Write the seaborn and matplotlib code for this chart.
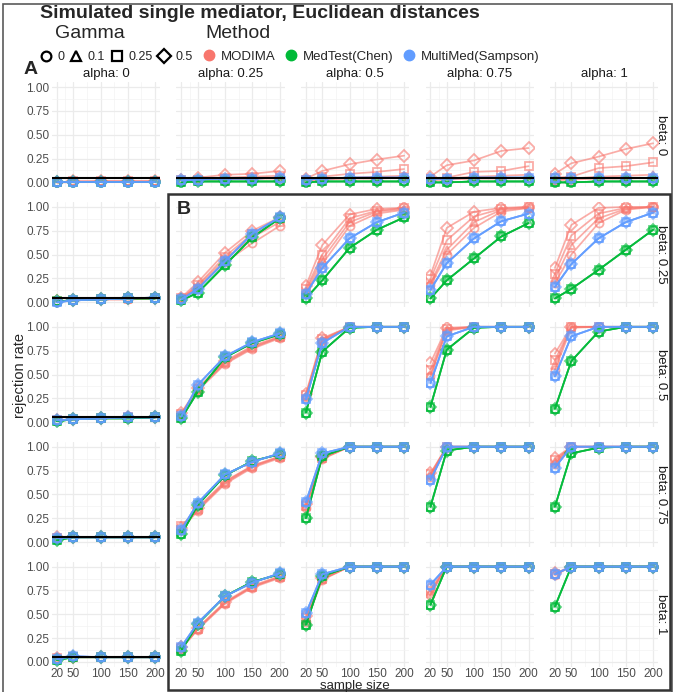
"""
Simulated single mediator, Euclidean distances
Rejection rate by sample size, faceted by alpha (columns) and beta (rows).
"""
import numpy as np
import pandas as pd
import seaborn as sns
import matplotlib
matplotlib.use("Agg")
import matplotlib.pyplot as plt
from matplotlib.lines import Line2D
from matplotlib.patches import Rectangle

#****************************************
# Data
alphas = [0, 0.25, 0.5, 0.75, 1]
betas = [0, 0.25, 0.5, 0.75, 1]
sample_sizes = [20, 50, 100, 150, 200]
gammas = ["0", "0.1", "0.25", "0.5"]
methods = ["MODIMA", "MedTest(Chen)", "MultiMed(Sampson)"]
method_colors = ["#F8766D", "#00BA38", "#619CFF"]
gamma_markers = ["o", "^", "s", "D"]

# MODIMA: one curve per gamma (0, 0.1, 0.25, 0.5), key = (alpha, beta)
modima = {
    (0, 0): [[0.00, 0.00, 0.01, 0.01, 0.01], [0.00, 0.01, 0.01, 0.01, 0.01],
             [0.00, 0.01, 0.01, 0.01, 0.01], [0.00, 0.01, 0.01, 0.01, 0.01]],
    (0.25, 0): [[0.02, 0.03, 0.03, 0.04, 0.04], [0.02, 0.03, 0.04, 0.04, 0.05],
                [0.02, 0.03, 0.05, 0.06, 0.07], [0.02, 0.05, 0.08, 0.09, 0.12]],
    (0.5, 0): [[0.02, 0.03, 0.04, 0.04, 0.05], [0.02, 0.04, 0.05, 0.06, 0.07],
               [0.03, 0.06, 0.09, 0.11, 0.14], [0.04, 0.12, 0.19, 0.24, 0.28]],
    (0.75, 0): [[0.02, 0.03, 0.04, 0.04, 0.05], [0.03, 0.04, 0.06, 0.07, 0.08],
                [0.04, 0.05, 0.11, 0.12, 0.17], [0.06, 0.18, 0.23, 0.33, 0.36]],
    (1, 0): [[0.02, 0.03, 0.04, 0.04, 0.05], [0.03, 0.04, 0.06, 0.07, 0.08],
             [0.05, 0.06, 0.15, 0.17, 0.21], [0.09, 0.20, 0.27, 0.35, 0.41]],
    (0, 0.25): [[0.01, 0.02, 0.03, 0.03, 0.04], [0.01, 0.02, 0.03, 0.03, 0.04],
                [0.01, 0.02, 0.03, 0.04, 0.04], [0.01, 0.02, 0.03, 0.04, 0.05]],
    (0.25, 0.25): [[0.04, 0.15, 0.42, 0.62, 0.80], [0.04, 0.17, 0.45, 0.68, 0.84],
                   [0.04, 0.18, 0.48, 0.72, 0.87], [0.05, 0.21, 0.52, 0.75, 0.89]],
    (0.5, 0.25): [[0.10, 0.40, 0.80, 0.93, 0.97], [0.12, 0.45, 0.84, 0.95, 0.98],
                  [0.14, 0.50, 0.88, 0.96, 0.99], [0.17, 0.60, 0.92, 0.98, 0.99]],
    (0.75, 0.25): [[0.18, 0.50, 0.78, 0.95, 0.99], [0.20, 0.55, 0.84, 0.97, 0.99],
                   [0.24, 0.65, 0.90, 0.98, 1.00], [0.28, 0.78, 0.95, 0.99, 1.00]],
    (1, 0.25): [[0.20, 0.50, 0.83, 0.97, 1.00], [0.25, 0.60, 0.88, 0.98, 1.00],
                [0.30, 0.70, 0.93, 0.99, 1.00], [0.36, 0.81, 0.99, 1.00, 1.00]],
    (0, 0.5): [[0.02, 0.03, 0.04, 0.04, 0.05], [0.02, 0.03, 0.04, 0.05, 0.05],
               [0.02, 0.03, 0.04, 0.05, 0.05], [0.02, 0.03, 0.04, 0.05, 0.05]],
    (0.25, 0.5): [[0.08, 0.33, 0.61, 0.77, 0.88], [0.09, 0.34, 0.62, 0.78, 0.89],
                  [0.09, 0.35, 0.63, 0.79, 0.89], [0.10, 0.36, 0.64, 0.80, 0.90]],
    (0.5, 0.5): [[0.26, 0.85, 1.00, 1.00, 1.00], [0.27, 0.86, 1.00, 1.00, 1.00],
                 [0.28, 0.87, 1.00, 1.00, 1.00], [0.30, 0.88, 1.00, 1.00, 1.00]],
    (0.75, 0.5): [[0.48, 0.96, 1.00, 1.00, 1.00], [0.50, 0.97, 1.00, 1.00, 1.00],
                  [0.55, 0.98, 1.00, 1.00, 1.00], [0.62, 0.99, 1.00, 1.00, 1.00]],
    (1, 0.5): [[0.55, 0.99, 1.00, 1.00, 1.00], [0.60, 1.00, 1.00, 1.00, 1.00],
               [0.65, 1.00, 1.00, 1.00, 1.00], [0.72, 1.00, 1.00, 1.00, 1.00]],
    (0, 0.75): [[0.04, 0.05, 0.05, 0.05, 0.05], [0.04, 0.05, 0.05, 0.05, 0.05],
                [0.04, 0.05, 0.05, 0.05, 0.05], [0.05, 0.05, 0.05, 0.05, 0.05]],
    (0.25, 0.75): [[0.13, 0.33, 0.61, 0.78, 0.88], [0.14, 0.34, 0.62, 0.79, 0.89],
                   [0.17, 0.35, 0.63, 0.80, 0.89], [0.15, 0.36, 0.64, 0.80, 0.90]],
    (0.5, 0.75): [[0.36, 0.87, 1.00, 1.00, 1.00], [0.38, 0.88, 1.00, 1.00, 1.00],
                  [0.38, 0.88, 1.00, 1.00, 1.00], [0.40, 0.89, 1.00, 1.00, 1.00]],
    (0.75, 0.75): [[0.68, 1.00, 1.00, 1.00, 1.00], [0.70, 1.00, 1.00, 1.00, 1.00],
                   [0.71, 1.00, 1.00, 1.00, 1.00], [0.72, 1.00, 1.00, 1.00, 1.00]],
    (1, 0.75): [[0.82, 1.00, 1.00, 1.00, 1.00], [0.84, 1.00, 1.00, 1.00, 1.00],
                [0.86, 1.00, 1.00, 1.00, 1.00], [0.88, 1.00, 1.00, 1.00, 1.00]],
    (0, 1): [[0.03, 0.05, 0.05, 0.05, 0.05], [0.03, 0.05, 0.05, 0.05, 0.05],
             [0.04, 0.05, 0.05, 0.05, 0.05], [0.04, 0.05, 0.05, 0.05, 0.05]],
    (0.25, 1): [[0.14, 0.34, 0.61, 0.78, 0.88], [0.14, 0.35, 0.62, 0.79, 0.89],
                [0.15, 0.35, 0.62, 0.79, 0.89], [0.16, 0.36, 0.63, 0.80, 0.90]],
    (0.5, 1): [[0.42, 0.86, 1.00, 1.00, 1.00], [0.44, 0.87, 1.00, 1.00, 1.00],
               [0.46, 0.87, 1.00, 1.00, 1.00], [0.48, 0.88, 1.00, 1.00, 1.00]],
    (0.75, 1): [[0.70, 1.00, 1.00, 1.00, 1.00], [0.72, 1.00, 1.00, 1.00, 1.00],
                [0.74, 1.00, 1.00, 1.00, 1.00], [0.76, 1.00, 1.00, 1.00, 1.00]],
    (1, 1): [[0.91, 1.00, 1.00, 1.00, 1.00], [0.92, 1.00, 1.00, 1.00, 1.00],
             [0.92, 1.00, 1.00, 1.00, 1.00], [0.93, 1.00, 1.00, 1.00, 1.00]],
}

# MedTest(Chen): the four gamma curves lie on top of each other
medtest = {
    (0, 0): [0.00, 0.00, 0.00, 0.00, 0.00],
    (0.25, 0): [0.00, 0.01, 0.01, 0.01, 0.01],
    (0.5, 0): [0.00, 0.01, 0.01, 0.01, 0.01],
    (0.75, 0): [0.00, 0.00, 0.01, 0.01, 0.01],
    (1, 0): [0.00, 0.00, 0.01, 0.01, 0.01],
    (0, 0.25): [0.01, 0.02, 0.03, 0.04, 0.04],
    (0.25, 0.25): [0.02, 0.10, 0.39, 0.68, 0.88],
    (0.5, 0.25): [0.04, 0.23, 0.57, 0.76, 0.89],
    (0.75, 0.25): [0.04, 0.23, 0.46, 0.69, 0.83],
    (1, 0.25): [0.04, 0.14, 0.34, 0.55, 0.76],
    (0, 0.5): [0.01, 0.03, 0.04, 0.04, 0.05],
    (0.25, 0.5): [0.04, 0.32, 0.68, 0.83, 0.92],
    (0.5, 0.5): [0.10, 0.74, 0.99, 1.00, 1.00],
    (0.75, 0.5): [0.16, 0.76, 0.99, 1.00, 1.00],
    (1, 0.5): [0.14, 0.64, 0.95, 1.00, 1.00],
    (0, 0.75): [0.02, 0.05, 0.05, 0.05, 0.05],
    (0.25, 0.75): [0.08, 0.39, 0.70, 0.85, 0.92],
    (0.5, 0.75): [0.25, 0.90, 1.00, 1.00, 1.00],
    (0.75, 0.75): [0.37, 0.96, 1.00, 1.00, 1.00],
    (1, 0.75): [0.37, 0.93, 0.99, 1.00, 1.00],
    (0, 1): [0.02, 0.05, 0.05, 0.05, 0.05],
    (0.25, 1): [0.12, 0.40, 0.69, 0.84, 0.92],
    (0.5, 1): [0.39, 0.90, 1.00, 1.00, 1.00],
    (0.75, 1): [0.60, 1.00, 1.00, 1.00, 1.00],
    (1, 1): [0.58, 1.00, 1.00, 1.00, 1.00],
}

# MultiMed(Sampson): the four gamma curves lie on top of each other
multimed = {
    (0, 0): [0.00, 0.00, 0.00, 0.00, 0.00],
    (0.25, 0): [0.02, 0.03, 0.04, 0.04, 0.05],
    (0.5, 0): [0.03, 0.04, 0.05, 0.05, 0.05],
    (0.75, 0): [0.04, 0.04, 0.05, 0.05, 0.05],
    (1, 0): [0.05, 0.05, 0.05, 0.05, 0.05],
    (0, 0.25): [0.00, 0.02, 0.03, 0.04, 0.05],
    (0.25, 0.25): [0.03, 0.14, 0.43, 0.72, 0.89],
    (0.5, 0.25): [0.09, 0.36, 0.67, 0.84, 0.94],
    (0.75, 0.25): [0.13, 0.41, 0.67, 0.85, 0.93],
    (1, 0.25): [0.16, 0.40, 0.67, 0.84, 0.94],
    (0, 0.5): [0.02, 0.03, 0.04, 0.05, 0.05],
    (0.25, 0.5): [0.06, 0.39, 0.69, 0.84, 0.93],
    (0.5, 0.5): [0.24, 0.83, 1.00, 1.00, 1.00],
    (0.75, 0.5): [0.41, 0.90, 1.00, 1.00, 1.00],
    (1, 0.5): [0.48, 0.90, 1.00, 1.00, 1.00],
    (0, 0.75): [0.04, 0.05, 0.05, 0.05, 0.05],
    (0.25, 0.75): [0.13, 0.41, 0.71, 0.84, 0.93],
    (0.5, 0.75): [0.42, 0.93, 1.00, 1.00, 1.00],
    (0.75, 0.75): [0.65, 1.00, 1.00, 1.00, 1.00],
    (1, 0.75): [0.78, 1.00, 1.00, 1.00, 1.00],
    (0, 1): [0.03, 0.06, 0.05, 0.05, 0.05],
    (0.25, 1): [0.16, 0.41, 0.69, 0.83, 0.93],
    (0.5, 1): [0.51, 0.92, 1.00, 1.00, 1.00],
    (0.75, 1): [0.81, 1.00, 1.00, 1.00, 1.00],
    (1, 1): [0.92, 1.00, 1.00, 1.00, 1.00],
}

#****************************************
# Long table for seaborn
rows = []
for (a, b), curves in modima.items():
    for gi, g in enumerate(gammas):
        per_method = [curves[gi], medtest[(a, b)], multimed[(a, b)]]
        for m, vals in zip(methods, per_method):
            for n, v in zip(sample_sizes, vals):
                rows.append((a, b, g, m, n, v))
df = pd.DataFrame(rows, columns=["alpha", "beta", "gamma", "method", "n", "rate"])

#****************************************
sns.set_style("white")
plt.rcParams["font.family"] = ["Liberation Sans", "DejaVu Sans"]

W, H = 673, 692
fig, axes = plt.subplots(5, 5, figsize=(W / 100, H / 100), dpi=100,
                         sharex=True, sharey=True)
fig.subplots_adjust(left=52 / W, right=658 / W, top=1 - 82.25 / H,
                    bottom=1 - 666.75 / H, wspace=16.5 / 108, hspace=15 / 105)

for i, b in enumerate(betas):
    for j, a in enumerate(alphas):
        ax = axes[i, j]
        sub = df[(df.alpha == a) & (df.beta == b)]
        sns.lineplot(data=sub, x="n", y="rate", hue="method", style="gamma",
                     hue_order=methods, style_order=gammas,
                     palette=method_colors, markers=gamma_markers, dashes=False,
                     estimator=None, errorbar=None, legend=False, ax=ax,
                     lw=1.25, alpha=0.6, markersize=5.8)
        for line in ax.lines:
            line.set_markerfacecolor("none")
            line.set_markeredgecolor(line.get_color())
            line.set_markeredgewidth(1.3)
        if i == 0 or j == 0:
            ax.axhline(0.05, color="black", lw=1.5, zorder=5)

        ax.set_xlim(11, 209)
        ax.set_ylim(-0.05, 1.05)
        ax.set_xticks(sample_sizes)
        ax.set_xticks([35, 75, 125, 175], minor=True)
        ax.set_yticks([0, 0.25, 0.5, 0.75, 1])
        ax.set_yticklabels(["0.00", "0.25", "0.50", "0.75", "1.00"])
        ax.set_yticks([0.125, 0.375, 0.625, 0.875], minor=True)
        ax.grid(which="major", color="#EBEBEB", lw=0.9)
        ax.grid(which="minor", color="#F3F3F3", lw=0.5)
        ax.set_axisbelow(True)
        for s in ax.spines.values():
            s.set_visible(False)
        ax.tick_params(which="both", length=0, labelsize=8.5,
                       labelcolor="#4D4D4D", pad=2)
        ax.tick_params(axis="x", pad=1)
        ax.set_xlabel("")
        ax.set_ylabel("")
        if i == 0:
            ax.set_title(f"alpha: {a}", fontsize=9.5, color="#1A1A1A", pad=4)
        if j == 4:
            ax.text(1 + 3 / 108, 0.5, f"beta: {b}", rotation=270, ha="center",
                    va="center", fontsize=9.5, color="#1A1A1A",
                    transform=ax.transAxes)

fig.text(355 / W, 1 - 691.8 / H, "sample size", ha="center", va="bottom",
         fontsize=9.5)
fig.text(20 / W, 1 - 375 / H, "rejection rate", ha="center", va="center",
         rotation=90, fontsize=10.5)

#****************************************
# Title, legends, panel labels and boxes
fig.text(40 / W, 1 - 14 / H, "Simulated single mediator, Euclidean distances",
         fontsize=14, fontweight="bold", va="center")
fig.text(55 / W, 1 - 34 / H, "Gamma", fontsize=14, va="center")
fig.text(205 / W, 1 - 34 / H, "Method", fontsize=14, va="center")

gamma_handles = [Line2D([], [], ls="none", marker=m, mfc="none", mec="black",
                        mew=1.6, ms=7) for m in gamma_markers]
method_handles = [Line2D([], [], ls="none", marker="o", color=c, ms=7.5)
                  for c in method_colors]
leg_kw = dict(loc="center left", frameon=False,
              handlelength=1.0, handletextpad=0.4,
              borderpad=0, borderaxespad=0)
fig.legend(gamma_handles, gammas, ncol=4, columnspacing=0.45, fontsize=9,
           bbox_to_anchor=(40 / W, 1 - 57 / H), **leg_kw)
fig.legend(method_handles, methods, ncol=3, columnspacing=0.7, fontsize=9.5,
           bbox_to_anchor=(202 / W, 1 - 57 / H), **leg_kw)

fig.text(31 / W, 1 - 70 / H, "A", fontsize=14, fontweight="bold",
         ha="center", va="center")
fig.text(184 / W, 1 - 209 / H, "B", fontsize=14, fontweight="bold",
         ha="center", va="center")

fig.add_artist(Rectangle((3 / W, -0.02), 669 / W, 1.02 - 4 / H,
                         transform=fig.transFigure, fill=False,
                         edgecolor="#5A5A5A", lw=1.2))
fig.add_artist(Rectangle((168 / W, 1 - 690 / H), 502 / W, 496 / H,
                         transform=fig.transFigure, fill=False,
                         edgecolor="#333333", lw=1.8))

fig.savefig("out.png", dpi=100)
